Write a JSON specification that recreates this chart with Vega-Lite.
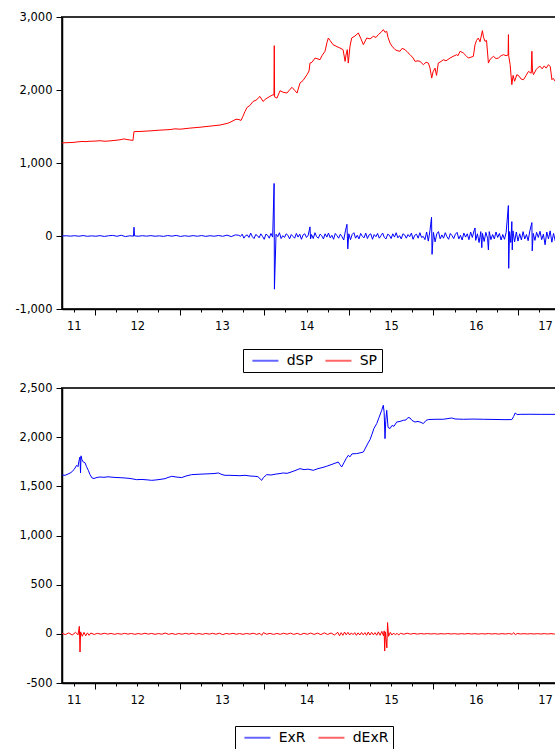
{
"$schema":"https://vega.github.io/schema/vega-lite/v6.json",
"padding":{"top":10,"left":13,"right":0,"bottom":0},
"background":"white",
"config":{
 "font":"DejaVu Sans",
 "view":{"stroke":"#333333","strokeWidth":2},
 "axis":{"grid":false,"domainColor":"black","domainWidth":1.5,"tickColor":"black","tickWidth":1,"labelColor":"black","labelFont":"DejaVu Sans","labelFontSize":11.5,"title":null},
 "legend":{"title":null,"symbolType":"M-0.32,0H3.68","symbolSize":169,"symbolStrokeWidth":2,"symbolOpacity":0.6,"labelFontSize":14,"labelFont":"DejaVu Sans","labelColor":"black","strokeColor":"black","padding":4,"columnPadding":7,"labelOffset":24.7,"direction":"horizontal"},
 "concat":{"spacing":7}
},
"datasets":{
"SP":[{"t":2011.61,"v":1275},{"t":2011.657,"v":1278},{"t":2011.705,"v":1280},{"t":2011.752,"v":1283},{"t":2011.8,"v":1290},{"t":2011.846,"v":1295},{"t":2011.894,"v":1293},{"t":2011.941,"v":1298},{"t":2012.0,"v":1300},{"t":2012.059,"v":1305},{"t":2012.118,"v":1298},{"t":2012.177,"v":1303},{"t":2012.236,"v":1310},{"t":2012.296,"v":1318},{"t":2012.343,"v":1330},{"t":2012.378,"v":1322},{"t":2012.414,"v":1315},{"t":2012.449,"v":1310},{"t":2012.461,"v":1430},{"t":2012.532,"v":1432},{"t":2012.65,"v":1440},{"t":2012.768,"v":1450},{"t":2012.887,"v":1458},{"t":2012.946,"v":1468},{"t":2013.005,"v":1463},{"t":2013.123,"v":1478},{"t":2013.241,"v":1490},{"t":2013.359,"v":1505},{"t":2013.478,"v":1520},{"t":2013.572,"v":1545},{"t":2013.619,"v":1570},{"t":2013.667,"v":1600},{"t":2013.702,"v":1595},{"t":2013.726,"v":1583},{"t":2013.749,"v":1640},{"t":2013.773,"v":1706},{"t":2013.797,"v":1761},{"t":2013.832,"v":1790},{"t":2013.868,"v":1843},{"t":2013.903,"v":1860},{"t":2013.95,"v":1912},{"t":2013.986,"v":1843},{"t":2014.021,"v":1880},{"t":2014.068,"v":1912},{"t":2014.104,"v":1935},{"t":2014.115,"v":1930},{"t":2014.119,"v":2607},{"t":2014.123,"v":1905},{"t":2014.151,"v":1889},{"t":2014.187,"v":1990},{"t":2014.222,"v":1970},{"t":2014.269,"v":1958},{"t":2014.305,"v":2010},{"t":2014.329,"v":2036},{"t":2014.364,"v":1990},{"t":2014.388,"v":1958},{"t":2014.423,"v":2095},{"t":2014.459,"v":2130},{"t":2014.506,"v":2210},{"t":2014.53,"v":2260},{"t":2014.541,"v":2369},{"t":2014.565,"v":2380},{"t":2014.601,"v":2438},{"t":2014.636,"v":2425},{"t":2014.66,"v":2415},{"t":2014.683,"v":2470},{"t":2014.719,"v":2530},{"t":2014.742,"v":2650},{"t":2014.758,"v":2712},{"t":2014.778,"v":2680},{"t":2014.813,"v":2621},{"t":2014.849,"v":2600},{"t":2014.896,"v":2575},{"t":2014.932,"v":2553},{"t":2014.956,"v":2392},{"t":2014.967,"v":2480},{"t":2014.982,"v":2553},{"t":2014.994,"v":2369},{"t":2015.014,"v":2600},{"t":2015.034,"v":2712},{"t":2015.073,"v":2740},{"t":2015.113,"v":2781},{"t":2015.144,"v":2700},{"t":2015.172,"v":2621},{"t":2015.212,"v":2712},{"t":2015.251,"v":2700},{"t":2015.29,"v":2735},{"t":2015.322,"v":2720},{"t":2015.349,"v":2759},{"t":2015.381,"v":2790},{"t":2015.408,"v":2827},{"t":2015.428,"v":2790},{"t":2015.448,"v":2804},{"t":2015.464,"v":2720},{"t":2015.487,"v":2643},{"t":2015.511,"v":2600},{"t":2015.547,"v":2553},{"t":2015.57,"v":2540},{"t":2015.605,"v":2530},{"t":2015.629,"v":2570},{"t":2015.665,"v":2553},{"t":2015.7,"v":2510},{"t":2015.724,"v":2484},{"t":2015.759,"v":2440},{"t":2015.783,"v":2392},{"t":2015.818,"v":2400},{"t":2015.842,"v":2392},{"t":2015.881,"v":2347},{"t":2015.913,"v":2380},{"t":2015.94,"v":2369},{"t":2015.96,"v":2300},{"t":2015.98,"v":2163},{"t":2015.996,"v":2250},{"t":2016.019,"v":2300},{"t":2016.037,"v":2200},{"t":2016.058,"v":2369},{"t":2016.09,"v":2390},{"t":2016.117,"v":2415},{"t":2016.149,"v":2400},{"t":2016.197,"v":2438},{"t":2016.232,"v":2460},{"t":2016.276,"v":2484},{"t":2016.291,"v":2470},{"t":2016.315,"v":2530},{"t":2016.354,"v":2506},{"t":2016.386,"v":2470},{"t":2016.413,"v":2438},{"t":2016.445,"v":2450},{"t":2016.472,"v":2461},{"t":2016.492,"v":2621},{"t":2016.51,"v":2680},{"t":2016.531,"v":2712},{"t":2016.551,"v":2660},{"t":2016.579,"v":2813},{"t":2016.593,"v":2720},{"t":2016.61,"v":2667},{"t":2016.628,"v":2680},{"t":2016.65,"v":2369},{"t":2016.67,"v":2420},{"t":2016.709,"v":2461},{"t":2016.741,"v":2430},{"t":2016.768,"v":2438},{"t":2016.8,"v":2470},{"t":2016.828,"v":2484},{"t":2016.859,"v":2470},{"t":2016.883,"v":2480},{"t":2016.887,"v":2759},{"t":2016.89,"v":2470},{"t":2016.907,"v":2347},{"t":2016.927,"v":2073},{"t":2016.942,"v":2200},{"t":2016.96,"v":2120},{"t":2016.986,"v":2210},{"t":2017.013,"v":2190},{"t":2017.037,"v":2150},{"t":2017.065,"v":2141},{"t":2017.096,"v":2200},{"t":2017.124,"v":2255},{"t":2017.156,"v":2230},{"t":2017.164,"v":2530},{"t":2017.171,"v":2260},{"t":2017.183,"v":2210},{"t":2017.215,"v":2280},{"t":2017.238,"v":2310},{"t":2017.262,"v":2324},{"t":2017.286,"v":2290},{"t":2017.31,"v":2330},{"t":2017.333,"v":2300},{"t":2017.36,"v":2347},{"t":2017.381,"v":2320},{"t":2017.401,"v":2141},{"t":2017.416,"v":2160},{"t":2017.44,"v":2118},{"t":2017.475,"v":2130},{"t":2017.52,"v":2125}],
"dSP":[{"t":2011.61,"v":0},{"t":2011.66,"v":3},{"t":2011.71,"v":-2},{"t":2011.76,"v":4},{"t":2011.81,"v":-3},{"t":2011.86,"v":6},{"t":2011.91,"v":-4},{"t":2011.96,"v":2},{"t":2012.01,"v":-3},{"t":2012.06,"v":5},{"t":2012.11,"v":-6},{"t":2012.16,"v":3},{"t":2012.21,"v":8},{"t":2012.26,"v":-4},{"t":2012.31,"v":10},{"t":2012.36,"v":-8},{"t":2012.41,"v":3},{"t":2012.455,"v":-2},{"t":2012.461,"v":120},{"t":2012.467,"v":2},{"t":2012.51,"v":-3},{"t":2012.56,"v":4},{"t":2012.61,"v":-2},{"t":2012.66,"v":5},{"t":2012.71,"v":-3},{"t":2012.76,"v":2},{"t":2012.81,"v":-5},{"t":2012.86,"v":6},{"t":2012.91,"v":-2},{"t":2012.96,"v":8},{"t":2013.01,"v":-6},{"t":2013.06,"v":3},{"t":2013.11,"v":-4},{"t":2013.16,"v":5},{"t":2013.21,"v":-3},{"t":2013.26,"v":6},{"t":2013.31,"v":-5},{"t":2013.36,"v":4},{"t":2013.41,"v":-3},{"t":2013.46,"v":7},{"t":2013.51,"v":-4},{"t":2013.56,"v":12},{"t":2013.61,"v":-8},{"t":2013.66,"v":15},{"t":2013.7,"v":10},{"t":2013.72,"v":-5},{"t":2013.74,"v":25},{"t":2013.76,"v":-30},{"t":2013.78,"v":5},{"t":2013.8,"v":15},{"t":2013.82,"v":-20},{"t":2013.84,"v":40},{"t":2013.86,"v":-10},{"t":2013.88,"v":-35},{"t":2013.9,"v":20},{"t":2013.92,"v":5},{"t":2013.94,"v":-25},{"t":2013.96,"v":30},{"t":2013.98,"v":-5},{"t":2014.0,"v":-45},{"t":2014.02,"v":25},{"t":2014.04,"v":10},{"t":2014.06,"v":-30},{"t":2014.08,"v":35},{"t":2014.1,"v":-15},{"t":2014.117,"v":720},{"t":2014.121,"v":-728},{"t":2014.14,"v":25},{"t":2014.16,"v":-10},{"t":2014.18,"v":45},{"t":2014.2,"v":-35},{"t":2014.22,"v":5},{"t":2014.24,"v":-20},{"t":2014.26,"v":30},{"t":2014.28,"v":10},{"t":2014.3,"v":-40},{"t":2014.32,"v":20},{"t":2014.34,"v":-5},{"t":2014.36,"v":-30},{"t":2014.38,"v":35},{"t":2014.4,"v":-15},{"t":2014.42,"v":25},{"t":2014.44,"v":-45},{"t":2014.46,"v":15},{"t":2014.48,"v":30},{"t":2014.5,"v":-20},{"t":2014.52,"v":10},{"t":2014.541,"v":125},{"t":2014.548,"v":-40},{"t":2014.56,"v":20},{"t":2014.58,"v":-35},{"t":2014.6,"v":45},{"t":2014.62,"v":-10},{"t":2014.64,"v":-30},{"t":2014.66,"v":25},{"t":2014.68,"v":5},{"t":2014.7,"v":-40},{"t":2014.72,"v":30},{"t":2014.74,"v":-15},{"t":2014.76,"v":40},{"t":2014.78,"v":-25},{"t":2014.8,"v":10},{"t":2014.82,"v":-45},{"t":2014.84,"v":35},{"t":2014.86,"v":5},{"t":2014.88,"v":-30},{"t":2014.9,"v":25},{"t":2014.92,"v":-10},{"t":2014.94,"v":-55},{"t":2014.96,"v":70},{"t":2014.978,"v":160},{"t":2014.988,"v":-177},{"t":2015.0,"v":30},{"t":2015.02,"v":-50},{"t":2015.04,"v":20},{"t":2015.06,"v":45},{"t":2015.08,"v":-30},{"t":2015.1,"v":10},{"t":2015.12,"v":-40},{"t":2015.14,"v":35},{"t":2015.16,"v":-5},{"t":2015.18,"v":-25},{"t":2015.2,"v":40},{"t":2015.22,"v":-35},{"t":2015.24,"v":15},{"t":2015.26,"v":30},{"t":2015.28,"v":-45},{"t":2015.3,"v":20},{"t":2015.32,"v":-10},{"t":2015.34,"v":35},{"t":2015.36,"v":-30},{"t":2015.38,"v":5},{"t":2015.4,"v":40},{"t":2015.42,"v":-20},{"t":2015.44,"v":-40},{"t":2015.46,"v":25},{"t":2015.48,"v":10},{"t":2015.5,"v":-35},{"t":2015.52,"v":30},{"t":2015.54,"v":-15},{"t":2015.56,"v":45},{"t":2015.58,"v":-25},{"t":2015.6,"v":5},{"t":2015.62,"v":-40},{"t":2015.64,"v":30},{"t":2015.66,"v":15},{"t":2015.68,"v":-30},{"t":2015.7,"v":20},{"t":2015.72,"v":-10},{"t":2015.74,"v":40},{"t":2015.76,"v":-45},{"t":2015.78,"v":10},{"t":2015.8,"v":25},{"t":2015.82,"v":-30},{"t":2015.84,"v":45},{"t":2015.86,"v":-20},{"t":2015.88,"v":-5},{"t":2015.9,"v":-50},{"t":2015.92,"v":55},{"t":2015.94,"v":-70},{"t":2015.96,"v":80},{"t":2015.978,"v":257},{"t":2015.984,"v":-251},{"t":2016.0,"v":50},{"t":2016.02,"v":-80},{"t":2016.04,"v":30},{"t":2016.06,"v":60},{"t":2016.08,"v":-40},{"t":2016.1,"v":15},{"t":2016.12,"v":-30},{"t":2016.14,"v":45},{"t":2016.16,"v":-10},{"t":2016.18,"v":-45},{"t":2016.2,"v":35},{"t":2016.22,"v":5},{"t":2016.24,"v":-35},{"t":2016.26,"v":25},{"t":2016.28,"v":50},{"t":2016.3,"v":-40},{"t":2016.32,"v":10},{"t":2016.34,"v":-55},{"t":2016.36,"v":40},{"t":2016.38,"v":-15},{"t":2016.4,"v":30},{"t":2016.42,"v":-50},{"t":2016.44,"v":55},{"t":2016.46,"v":-20},{"t":2016.48,"v":70},{"t":2016.492,"v":110},{"t":2016.5,"v":-60},{"t":2016.52,"v":30},{"t":2016.54,"v":-90},{"t":2016.56,"v":60},{"t":2016.572,"v":-160},{"t":2016.58,"v":35},{"t":2016.6,"v":-75},{"t":2016.62,"v":50},{"t":2016.64,"v":-30},{"t":2016.65,"v":-190},{"t":2016.66,"v":60},{"t":2016.68,"v":-50},{"t":2016.7,"v":20},{"t":2016.72,"v":-40},{"t":2016.74,"v":55},{"t":2016.76,"v":-20},{"t":2016.78,"v":35},{"t":2016.8,"v":-55},{"t":2016.82,"v":20},{"t":2016.84,"v":-45},{"t":2016.86,"v":50},{"t":2016.886,"v":417},{"t":2016.89,"v":-443},{"t":2016.9,"v":60},{"t":2016.915,"v":-90},{"t":2016.927,"v":197},{"t":2016.932,"v":-190},{"t":2016.94,"v":70},{"t":2016.96,"v":-80},{"t":2016.98,"v":55},{"t":2017.0,"v":-70},{"t":2017.02,"v":30},{"t":2017.04,"v":-55},{"t":2017.06,"v":60},{"t":2017.08,"v":-40},{"t":2017.1,"v":20},{"t":2017.12,"v":-65},{"t":2017.14,"v":70},{"t":2017.164,"v":184},{"t":2017.168,"v":-204},{"t":2017.18,"v":35},{"t":2017.2,"v":-60},{"t":2017.22,"v":50},{"t":2017.24,"v":-20},{"t":2017.26,"v":65},{"t":2017.28,"v":-50},{"t":2017.3,"v":25},{"t":2017.32,"v":-120},{"t":2017.34,"v":55},{"t":2017.36,"v":-40},{"t":2017.38,"v":70},{"t":2017.4,"v":-85},{"t":2017.42,"v":35},{"t":2017.44,"v":-65},{"t":2017.46,"v":50},{"t":2017.48,"v":-30},{"t":2017.5,"v":40},{"t":2017.52,"v":-20}],
"ExR":[{"t":2011.61,"v":1615},{"t":2011.645,"v":1612},{"t":2011.681,"v":1625},{"t":2011.716,"v":1640},{"t":2011.752,"v":1670},{"t":2011.784,"v":1714},{"t":2011.799,"v":1700},{"t":2011.811,"v":1760},{"t":2011.823,"v":1798},{"t":2011.829,"v":1636},{"t":2011.835,"v":1810},{"t":2011.846,"v":1770},{"t":2011.862,"v":1747},{"t":2011.882,"v":1740},{"t":2011.9,"v":1700},{"t":2011.921,"v":1663},{"t":2011.941,"v":1620},{"t":2011.965,"v":1585},{"t":2011.988,"v":1580},{"t":2012.024,"v":1590},{"t":2012.059,"v":1595},{"t":2012.106,"v":1592},{"t":2012.154,"v":1597},{"t":2012.201,"v":1593},{"t":2012.248,"v":1590},{"t":2012.296,"v":1588},{"t":2012.355,"v":1585},{"t":2012.414,"v":1580},{"t":2012.493,"v":1568},{"t":2012.556,"v":1570},{"t":2012.627,"v":1565},{"t":2012.67,"v":1561},{"t":2012.721,"v":1565},{"t":2012.768,"v":1570},{"t":2012.827,"v":1578},{"t":2012.863,"v":1590},{"t":2012.907,"v":1602},{"t":2012.958,"v":1595},{"t":2013.025,"v":1589},{"t":2013.076,"v":1605},{"t":2013.143,"v":1619},{"t":2013.206,"v":1622},{"t":2013.277,"v":1625},{"t":2013.359,"v":1628},{"t":2013.407,"v":1630},{"t":2013.458,"v":1636},{"t":2013.501,"v":1620},{"t":2013.537,"v":1612},{"t":2013.596,"v":1612},{"t":2013.655,"v":1610},{"t":2013.714,"v":1608},{"t":2013.773,"v":1612},{"t":2013.832,"v":1605},{"t":2013.89,"v":1602},{"t":2013.926,"v":1598},{"t":2013.97,"v":1561},{"t":2013.991,"v":1590},{"t":2014.03,"v":1619},{"t":2014.08,"v":1615},{"t":2014.14,"v":1625},{"t":2014.187,"v":1630},{"t":2014.226,"v":1636},{"t":2014.27,"v":1632},{"t":2014.317,"v":1645},{"t":2014.364,"v":1660},{"t":2014.423,"v":1680},{"t":2014.471,"v":1670},{"t":2014.518,"v":1675},{"t":2014.58,"v":1663},{"t":2014.636,"v":1680},{"t":2014.683,"v":1690},{"t":2014.739,"v":1704},{"t":2014.79,"v":1720},{"t":2014.837,"v":1735},{"t":2014.876,"v":1747},{"t":2014.896,"v":1720},{"t":2014.916,"v":1697},{"t":2014.943,"v":1740},{"t":2014.967,"v":1780},{"t":2014.994,"v":1816},{"t":2015.014,"v":1800},{"t":2015.037,"v":1830},{"t":2015.093,"v":1833},{"t":2015.132,"v":1840},{"t":2015.172,"v":1849},{"t":2015.203,"v":1900},{"t":2015.227,"v":1940},{"t":2015.251,"v":1975},{"t":2015.274,"v":2030},{"t":2015.298,"v":2090},{"t":2015.33,"v":2138},{"t":2015.357,"v":2200},{"t":2015.389,"v":2273},{"t":2015.408,"v":2324},{"t":2015.418,"v":2250},{"t":2015.428,"v":1985},{"t":2015.437,"v":2171},{"t":2015.448,"v":2273},{"t":2015.464,"v":2100},{"t":2015.487,"v":2087},{"t":2015.511,"v":2120},{"t":2015.534,"v":2110},{"t":2015.566,"v":2154},{"t":2015.605,"v":2160},{"t":2015.644,"v":2171},{"t":2015.676,"v":2175},{"t":2015.7,"v":2200},{"t":2015.724,"v":2195},{"t":2015.747,"v":2170},{"t":2015.783,"v":2154},{"t":2015.818,"v":2160},{"t":2015.854,"v":2150},{"t":2015.881,"v":2138},{"t":2015.913,"v":2170},{"t":2015.94,"v":2179},{"t":2016.019,"v":2182},{"t":2016.117,"v":2182},{"t":2016.216,"v":2195},{"t":2016.255,"v":2185},{"t":2016.354,"v":2182},{"t":2016.469,"v":2184},{"t":2016.59,"v":2182},{"t":2016.728,"v":2180},{"t":2016.846,"v":2178},{"t":2016.927,"v":2179},{"t":2016.948,"v":2210},{"t":2016.966,"v":2246},{"t":2016.99,"v":2230},{"t":2017.025,"v":2232},{"t":2017.143,"v":2233},{"t":2017.262,"v":2232},{"t":2017.44,"v":2232},{"t":2017.52,"v":2233}],
"dExR":[{"t":2011.61,"v":5},{"t":2011.65,"v":-8},{"t":2011.69,"v":10},{"t":2011.73,"v":-12},{"t":2011.77,"v":15},{"t":2011.8,"v":-10},{"t":2011.815,"v":76},{"t":2011.823,"v":-185},{"t":2011.83,"v":20},{"t":2011.85,"v":-25},{"t":2011.87,"v":15},{"t":2011.89,"v":-20},{"t":2011.91,"v":10},{"t":2011.93,"v":-15},{"t":2011.95,"v":8},{"t":2011.99,"v":-6},{"t":2012.03,"v":5},{"t":2012.07,"v":-4},{"t":2012.11,"v":6},{"t":2012.15,"v":-3},{"t":2012.19,"v":4},{"t":2012.23,"v":-5},{"t":2012.27,"v":3},{"t":2012.31,"v":-4},{"t":2012.35,"v":5},{"t":2012.39,"v":-3},{"t":2012.43,"v":4},{"t":2012.47,"v":-5},{"t":2012.51,"v":3},{"t":2012.55,"v":-4},{"t":2012.59,"v":6},{"t":2012.63,"v":-3},{"t":2012.67,"v":4},{"t":2012.71,"v":-5},{"t":2012.75,"v":3},{"t":2012.79,"v":-4},{"t":2012.83,"v":8},{"t":2012.87,"v":-5},{"t":2012.91,"v":4},{"t":2012.95,"v":-6},{"t":2012.99,"v":3},{"t":2013.03,"v":-4},{"t":2013.07,"v":5},{"t":2013.11,"v":-3},{"t":2013.15,"v":6},{"t":2013.19,"v":-4},{"t":2013.23,"v":3},{"t":2013.27,"v":-5},{"t":2013.31,"v":4},{"t":2013.35,"v":-3},{"t":2013.39,"v":5},{"t":2013.43,"v":-4},{"t":2013.47,"v":6},{"t":2013.51,"v":-8},{"t":2013.55,"v":4},{"t":2013.59,"v":-3},{"t":2013.63,"v":5},{"t":2013.67,"v":-4},{"t":2013.71,"v":3},{"t":2013.75,"v":-5},{"t":2013.79,"v":4},{"t":2013.83,"v":-3},{"t":2013.87,"v":6},{"t":2013.91,"v":-5},{"t":2013.95,"v":4},{"t":2013.97,"v":-15},{"t":2013.99,"v":12},{"t":2014.03,"v":-4},{"t":2014.07,"v":5},{"t":2014.11,"v":-6},{"t":2014.15,"v":4},{"t":2014.19,"v":-5},{"t":2014.23,"v":6},{"t":2014.27,"v":-4},{"t":2014.31,"v":7},{"t":2014.35,"v":-6},{"t":2014.39,"v":5},{"t":2014.43,"v":-8},{"t":2014.47,"v":6},{"t":2014.51,"v":-5},{"t":2014.55,"v":8},{"t":2014.59,"v":-6},{"t":2014.63,"v":7},{"t":2014.67,"v":-8},{"t":2014.71,"v":10},{"t":2014.75,"v":-7},{"t":2014.79,"v":9},{"t":2014.83,"v":-12},{"t":2014.87,"v":15},{"t":2014.89,"v":-20},{"t":2014.91,"v":12},{"t":2014.93,"v":-15},{"t":2014.95,"v":18},{"t":2014.97,"v":-10},{"t":2014.99,"v":15},{"t":2015.01,"v":-12},{"t":2015.03,"v":10},{"t":2015.05,"v":-8},{"t":2015.07,"v":12},{"t":2015.09,"v":-15},{"t":2015.11,"v":10},{"t":2015.13,"v":-12},{"t":2015.15,"v":14},{"t":2015.17,"v":-10},{"t":2015.19,"v":12},{"t":2015.21,"v":-15},{"t":2015.23,"v":18},{"t":2015.25,"v":-12},{"t":2015.27,"v":15},{"t":2015.29,"v":-10},{"t":2015.31,"v":12},{"t":2015.33,"v":-14},{"t":2015.35,"v":20},{"t":2015.37,"v":-15},{"t":2015.39,"v":25},{"t":2015.41,"v":-20},{"t":2015.418,"v":30},{"t":2015.424,"v":-175},{"t":2015.432,"v":20},{"t":2015.45,"v":-142},{"t":2015.458,"v":115},{"t":2015.47,"v":-25},{"t":2015.49,"v":15},{"t":2015.51,"v":-12},{"t":2015.53,"v":8},{"t":2015.55,"v":-10},{"t":2015.57,"v":6},{"t":2015.59,"v":-12},{"t":2015.61,"v":5},{"t":2015.65,"v":-4},{"t":2015.69,"v":6},{"t":2015.73,"v":-3},{"t":2015.77,"v":4},{"t":2015.81,"v":-3},{"t":2015.85,"v":3},{"t":2015.89,"v":-2},{"t":2015.93,"v":3},{"t":2015.97,"v":-2},{"t":2016.01,"v":2},{"t":2016.05,"v":-3},{"t":2016.09,"v":2},{"t":2016.13,"v":-2},{"t":2016.17,"v":3},{"t":2016.21,"v":-2},{"t":2016.25,"v":2},{"t":2016.29,"v":-3},{"t":2016.33,"v":2},{"t":2016.37,"v":-2},{"t":2016.41,"v":3},{"t":2016.45,"v":-2},{"t":2016.49,"v":2},{"t":2016.53,"v":-3},{"t":2016.57,"v":2},{"t":2016.61,"v":-2},{"t":2016.65,"v":3},{"t":2016.69,"v":-2},{"t":2016.73,"v":2},{"t":2016.77,"v":-3},{"t":2016.81,"v":2},{"t":2016.85,"v":-2},{"t":2016.89,"v":3},{"t":2016.93,"v":-4},{"t":2016.95,"v":12},{"t":2016.97,"v":-10},{"t":2016.99,"v":4},{"t":2017.03,"v":-2},{"t":2017.07,"v":2},{"t":2017.11,"v":-2},{"t":2017.15,"v":2},{"t":2017.19,"v":-2},{"t":2017.23,"v":2},{"t":2017.27,"v":-2},{"t":2017.31,"v":2},{"t":2017.35,"v":-2},{"t":2017.39,"v":2},{"t":2017.43,"v":-2},{"t":2017.47,"v":2},{"t":2017.52,"v":-1}]
},
"vconcat":[
 {"width":500,"height":292,
  "resolve":{"axis":{"x":"independent"}},
  "layer":[
   {"data":{"name":"dSP"},"mark":{"type":"line","strokeWidth":1},
    "encoding":{
     "x":{"field":"t","type":"quantitative","scale":{"domain":[2011.61,2017.52],"nice":false,"zero":false},
      "axis":{"orient":"bottom","values":[2011.75,2012,2012.25,2012.5,2012.75,2013,2013.25,2013.5,2013.75,2014,2014.25,2014.5,2014.75,2015,2015.25,2015.5,2015.75,2016,2016.25,2016.5,2016.75,2017,2017.25,2017.5],
       "labelExpr":"datum.value==2011.75?'11':datum.value==2012.5?'12':datum.value==2013.5?'13':datum.value==2014.5?'14':datum.value==2015.5?'15':datum.value==2016.5?'16':''",
       "tickSize":3,"labelOverlap":false,"labelFlush":false,"labelPadding":8,"title":null}},
     "y":{"field":"v","type":"quantitative","scale":{"domain":[-1000,3000],"nice":false,"zero":false},
      "axis":{"values":[-1000,-500,0,500,1000,1500,2000,2500,3000],"labelExpr":"replace(format(datum.value,','),'\u2212','-')","tickSize":6,"labelPadding":4,"title":null}},
     "color":{"datum":"dSP","scale":{"domain":["dSP","SP"],"range":["#0000ff","#ff0000"]},"legend":{"orient":"none","legendX":181,"legendY":332}}
    }},
   {"data":{"name":"SP"},"mark":{"type":"line","strokeWidth":1},
    "encoding":{
     "x":{"field":"t","type":"quantitative",
      "axis":{"orient":"bottom","values":[2012,2013,2014,2015,2016,2017,2017.32],"domain":false,
       "labelExpr":"datum.value>2017.1?'17':''",
       "tickOpacity":{"condition":{"test":"datum.value>2017.1","value":0},"value":1},
       "tickSize":6,"labelOverlap":false,"labelFlush":false,"labelPadding":5,"title":null}},
     "y":{"field":"v","type":"quantitative"},
     "color":{"datum":"SP"}
    }}
  ]},
 {"width":500,"height":295,
  "resolve":{"axis":{"x":"independent"}},
  "layer":[
   {"data":{"name":"ExR"},"mark":{"type":"line","strokeWidth":1},
    "encoding":{
     "x":{"field":"t","type":"quantitative","scale":{"domain":[2011.61,2017.52],"nice":false,"zero":false},
      "axis":{"orient":"bottom","values":[2011.75,2012,2012.25,2012.5,2012.75,2013,2013.25,2013.5,2013.75,2014,2014.25,2014.5,2014.75,2015,2015.25,2015.5,2015.75,2016,2016.25,2016.5,2016.75,2017,2017.25,2017.5],
       "labelExpr":"datum.value==2011.75?'11':datum.value==2012.5?'12':datum.value==2013.5?'13':datum.value==2014.5?'14':datum.value==2015.5?'15':datum.value==2016.5?'16':''",
       "tickSize":3,"labelOverlap":false,"labelFlush":false,"labelPadding":8,"title":null}},
     "y":{"field":"v","type":"quantitative","scale":{"domain":[-500,2500],"nice":false,"zero":false},
      "axis":{"values":[-500,0,500,1000,1500,2000,2500],"labelExpr":"replace(format(datum.value,','),'\u2212','-')","tickSize":6,"labelPadding":4,"title":null}},
     "color":{"datum":"ExR","scale":{"domain":["ExR","dExR"],"range":["#0000ff","#ff0000"]},"legend":{"orient":"none","legendX":173,"legendY":338}}
    }},
   {"data":{"name":"dExR"},"mark":{"type":"line","strokeWidth":1},
    "encoding":{
     "x":{"field":"t","type":"quantitative",
      "axis":{"orient":"bottom","values":[2012,2013,2014,2015,2016,2017,2017.32],"domain":false,
       "labelExpr":"datum.value>2017.1?'17':''",
       "tickOpacity":{"condition":{"test":"datum.value>2017.1","value":0},"value":1},
       "tickSize":6,"labelOverlap":false,"labelFlush":false,"labelPadding":5,"title":null}},
     "y":{"field":"v","type":"quantitative"},
     "color":{"datum":"dExR"}
    }}
  ]}
],
"resolve":{"scale":{"color":"independent","x":"independent","y":"independent"},"legend":{"color":"independent"}}
}
